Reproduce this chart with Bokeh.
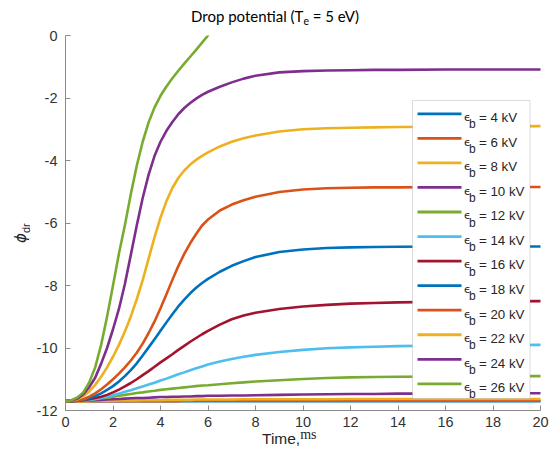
from bokeh.plotting import figure
from bokeh.models import Range1d, Label, BoxAnnotation, FixedTicker, Div
from bokeh.layouts import column, row
from bokeh.embed import file_html
from bokeh.resources import INLINE

# ---------------- data ----------------
time_ms = [0, 0.25, 0.5, 0.75, 1.0, 1.25, 1.5, 1.75, 2.0, 2.25, 2.5, 2.75, 3.0,
           3.25, 3.5, 3.75, 4.0, 4.25, 4.5, 4.75, 5.0, 5.25, 5.5, 5.75, 6.0,
           6.5, 7, 7.5, 8, 9, 10, 11, 12, 13, 14, 16, 18, 20]

beam_kv = [4, 6, 8, 10, 12, 14, 16, 18, 20, 22, 24, 26]

phi_4kv = [-11.70] * 38
phi_6kv = [-11.70] * 20 + [-11.69] * 18
phi_8kv = [-11.70, -11.70, -11.70, -11.70, -11.70, -11.69, -11.69, -11.69, -11.69, -11.68,
           -11.68, -11.68, -11.68, -11.67, -11.67, -11.67, -11.67, -11.66, -11.66, -11.66,
           -11.66, -11.66, -11.65, -11.65, -11.65, -11.65, -11.65, -11.64, -11.64, -11.64,
           -11.64, -11.64, -11.63, -11.63, -11.63, -11.63, -11.63, -11.63]
phi_10kv = [-11.70, -11.70, -11.69, -11.69, -11.68, -11.67, -11.66, -11.65, -11.64, -11.63,
            -11.62, -11.61, -11.60, -11.60, -11.59, -11.58, -11.57, -11.57, -11.56, -11.56,
            -11.55, -11.55, -11.54, -11.54, -11.53, -11.53, -11.52, -11.52, -11.51, -11.50,
            -11.49, -11.48, -11.47, -11.47, -11.46, -11.46, -11.45, -11.45]
phi_12kv = [-11.70, -11.70, -11.69, -11.68, -11.66, -11.64, -11.61, -11.59, -11.56, -11.53,
            -11.50, -11.47, -11.44, -11.42, -11.39, -11.37, -11.34, -11.32, -11.30, -11.28,
            -11.26, -11.24, -11.22, -11.20, -11.19, -11.16, -11.13, -11.10, -11.07, -11.03,
            -10.99, -10.96, -10.94, -10.93, -10.92, -10.91, -10.90, -10.90]
phi_14kv = [-11.70, -11.70, -11.69, -11.68, -11.66, -11.63, -11.60, -11.56, -11.51, -11.46,
            -11.40, -11.35, -11.29, -11.23, -11.17, -11.11, -11.04, -10.98, -10.91, -10.84,
            -10.78, -10.71, -10.65, -10.59, -10.53, -10.43, -10.35, -10.28, -10.22, -10.13,
            -10.06, -10.01, -9.98, -9.96, -9.94, -9.92, -9.91, -9.90]
phi_16kv = [-11.70, -11.70, -11.69, -11.67, -11.64, -11.60, -11.56, -11.50, -11.42, -11.33,
            -11.23, -11.12, -11.00, -10.87, -10.74, -10.60, -10.46, -10.33, -10.20, -10.06,
            -9.93, -9.80, -9.68, -9.56, -9.45, -9.25, -9.08, -8.96, -8.87, -8.75,
            -8.67, -8.62, -8.58, -8.56, -8.54, -8.52, -8.51, -8.50]
phi_18kv = [-11.70, -11.70, -11.69, -11.66, -11.61, -11.54, -11.45, -11.34, -11.22, -11.07,
            -10.90, -10.71, -10.49, -10.24, -9.98, -9.72, -9.45, -9.18, -8.92, -8.67,
            -8.45, -8.25, -8.07, -7.92, -7.79, -7.56, -7.37, -7.22, -7.09, -6.93,
            -6.85, -6.80, -6.78, -6.77, -6.76, -6.75, -6.75, -6.75]
phi_20kv = [-11.70, -11.70, -11.68, -11.64, -11.56, -11.45, -11.32, -11.17, -11.00, -10.82,
            -10.62, -10.40, -10.15, -9.86, -9.52, -9.15, -8.73, -8.28, -7.82, -7.38,
            -6.99, -6.65, -6.35, -6.08, -5.89, -5.60, -5.41, -5.27, -5.16, -5.01,
            -4.93, -4.89, -4.87, -4.86, -4.86, -4.85, -4.85, -4.85]
phi_22kv = [-11.70, -11.69, -11.64, -11.54, -11.39, -11.18, -10.92, -10.62, -10.28, -9.90,
            -9.47, -8.99, -8.44, -7.83, -7.14, -6.45, -5.83, -5.30, -4.88, -4.56,
            -4.32, -4.13, -3.98, -3.85, -3.74, -3.55, -3.40, -3.29, -3.20, -3.07,
            -3.00, -2.97, -2.95, -2.94, -2.93, -2.92, -2.91, -2.90]
phi_24kv = [-11.70, -11.68, -11.62, -11.48, -11.25, -10.95, -10.50, -10.00, -9.40, -8.75,
            -7.95, -7.02, -6.08, -5.20, -4.45, -3.85, -3.40, -3.05, -2.77, -2.52,
            -2.32, -2.16, -2.02, -1.90, -1.80, -1.64, -1.50, -1.38, -1.29, -1.18,
            -1.14, -1.12, -1.11, -1.10, -1.10, -1.09, -1.09, -1.09]
phi_26kv = [-11.70, -11.67, -11.58, -11.42, -11.10, -10.62, -9.90, -9.00, -8.00, -6.98,
            -6.07, -5.08, -4.17, -3.40, -2.78, -2.30, -1.93, -1.63, -1.37, -1.13,
            -0.90, -0.68, -0.46, -0.23, 0.0]

series = [phi_4kv, phi_6kv, phi_8kv, phi_10kv, phi_12kv, phi_14kv,
          phi_16kv, phi_18kv, phi_20kv, phi_22kv, phi_24kv, phi_26kv]

x_ticks = [0, 2, 4, 6, 8, 10, 12, 14, 16, 18, 20]
y_ticks = [-12, -10, -8, -6, -4, -2, 0]

# ---------------- styles / geometry ----------------
colors = ["#0072BD", "#D95319", "#EDB120", "#7E2F8E", "#77AC30", "#4DBEEE", "#A2142F"]
TITLE_H, YLAB_W, XLAB_H = 25, 30, 21
FIG_W, FIG_H = 555 - YLAB_W, 456 - TITLE_H - XLAB_H
# frame in page pixels: left 65, right 540, top 35, bottom 410
L, R, T, B = 65, 540, 35, 410
X0, X1, Y0, Y1 = 0, 20, -12, 0


def px2x(px):
    return X0 + (px - L) / (R - L) * (X1 - X0)


def py2y(py):
    return Y1 - (py - T) / (B - T) * (Y1 - Y0)


p = figure(width=FIG_W, height=FIG_H, output_backend="svg", toolbar_location=None,
           x_range=Range1d(X0, X1), y_range=Range1d(Y0, Y1),
           min_border_left=L - YLAB_W, min_border_right=555 - R,
           min_border_top=T - TITLE_H, min_border_bottom=TITLE_H + FIG_H - B)
p.outline_line_color = None
p.grid.visible = False

for ax in (p.xaxis[0], p.yaxis[0]):
    ax.axis_line_color = "#8a8a8a"
    ax.axis_line_width = 1
    ax.major_tick_line_color = "#8a8a8a"
    ax.major_tick_in = 5
    ax.major_tick_out = 0
    ax.minor_tick_line_color = None
    ax.major_label_text_font = "Liberation Sans"
    ax.major_label_text_font_size = "14.5px"
    ax.major_label_text_color = "#333333"
p.xaxis.ticker = FixedTicker(ticks=x_ticks)
p.yaxis.ticker = FixedTicker(ticks=y_ticks)
p.yaxis.major_label_overrides = {v: str(v) for v in y_ticks}
p.xaxis.major_label_standoff = 6
p.yaxis.major_label_standoff = 8

for i, vals in enumerate(series):
    p.line(time_ms[:len(vals)], vals, line_width=2.6, line_color=colors[i % 7],
           line_join="round", line_cap="round")

# ---------------- legend (drawn by hand for the subscripts) ----------------
box = BoxAnnotation(left=px2x(412), right=px2x(529.5), top=py2y(100), bottom=py2y(398),
                    fill_color="white", fill_alpha=1.0, line_color="#8a8a8a", line_width=1)
p.add_layout(box)
for i, kv in enumerate(beam_kv):
    yc = 113.3 + 24.55 * i
    sample = BoxAnnotation(left=px2x(417), right=px2x(461), top=py2y(yc - 1.4),
                           bottom=py2y(yc + 1.4), fill_color=colors[i % 7],
                           fill_alpha=1.0, line_color=None)
    p.add_layout(sample)
    p.add_layout(Label(x=px2x(463.5), y=py2y(yc + 3.8), text="\u03f5",
                       text_font="DejaVu Sans", text_font_size="11px",
                       text_color="#262626", text_baseline="alphabetic"))
    p.add_layout(Label(x=px2x(468.5), y=py2y(yc + 10.5), text="b",
                       text_font="Liberation Sans", text_font_size="12px",
                       text_color="#262626", text_baseline="alphabetic"))
    p.add_layout(Label(x=px2x(478.5), y=py2y(yc + 3.8), text="= %d kV" % kv,
                       text_font="Liberation Sans", text_font_size="13.3px",
                       text_color="#262626", text_baseline="alphabetic"))

# ---------------- title & axis labels as HTML text ----------------
title_div = Div(
    width=555, height=TITLE_H, margin=0,
    text=('<div style="position:relative; left:191px; top:8px; white-space:nowrap; '
          'font-family:Lato; font-size:15px; line-height:16px; color:#000000;">'
          'Drop potential (T<span style="font-size:10.5px; position:relative; top:3px;">e</span>'
          ' = 5 eV)</div>'))

ylab_div = Div(
    width=YLAB_W, height=FIG_H, margin=0,
    text=('<div style="position:relative; left:12px; top:218px; width:0; height:0;">'
          '<div style="transform:rotate(-90deg); transform-origin:0 0; white-space:nowrap; '
          'font-family:\'DejaVu Sans\'; font-size:15px; line-height:18px; color:#262626;">'
          '<span style="font-style:italic;">\u03d5</span>'
          '<span style="font-family:\'Liberation Sans\'; font-size:11px; position:relative; '
          'top:4px;">dr</span></div></div>'))

xlab_div = Div(
    width=555, height=XLAB_H, margin=0,
    text=('<div style="position:relative; left:262px; top:-5px; white-space:nowrap; '
          'font-family:\'Liberation Sans\'; font-size:15.5px; line-height:18px; color:#262626;">'
          'Time,<span style="font-family:\'Liberation Serif\'; font-size:14px; position:relative; '
          'top:-5px;">ms</span></div>'))

layout = column(title_div, row(ylab_div, p, spacing=0), xlab_div, spacing=0)

open("out.html", "w").write(file_html(layout, INLINE))
